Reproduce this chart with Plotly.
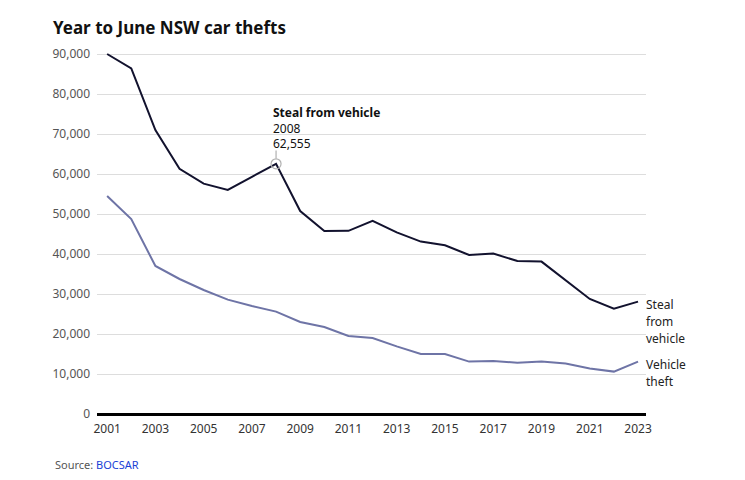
import plotly.graph_objects as go

years = list(range(2001, 2024))
steal_from_vehicle = [90000, 86400, 71000, 61300, 57600, 56000, 59300, 62555, 50750, 45750,
                      45800, 48300, 45400, 43100, 42200, 39750, 40100, 38250, 38100, 33500,
                      28750, 26300, 28100]
vehicle_theft = [54500, 48750, 37000, 33750, 31000, 28600, 27000, 25600, 23000, 21750,
                 19500, 19000, 16900, 15000, 15000, 13100, 13250, 12800, 13100, 12600,
                 11400, 10600, 13100]
y_ticks = [0, 10000, 20000, 30000, 40000, 50000, 60000, 70000, 80000, 90000]
x_ticks = list(range(2001, 2024, 2))

FONT = "Noto Sans"
C_STEAL = "#12122e"
C_THEFT = "#6e74a6"

# page body has an 8px margin, so the figure is sized/offset to compensate
W, H = 737, 472
L, R, T, B = 89, 99, 44, 66
PW, PH = W - L - R, H - T - B

fig = go.Figure()
fig.add_trace(go.Scatter(x=years, y=steal_from_vehicle, mode="lines",
                         line=dict(color=C_STEAL, width=2), name="Steal from vehicle",
                         hoverinfo="skip"))
fig.add_trace(go.Scatter(x=years, y=vehicle_theft, mode="lines",
                         line=dict(color=C_THEFT, width=2), name="Vehicle theft",
                         hoverinfo="skip"))

hi = years.index(2008)
hx, hy = years[hi], steal_from_vehicle[hi]
fig.add_trace(go.Scatter(x=[hx], y=[hy], mode="markers",
                         marker=dict(symbol="circle-open", size=10, color="#b0b0b0",
                                     line=dict(width=1.2, color="#b0b0b0")),
                         hoverinfo="skip"))
fig.add_shape(type="line", xref="x", yref="y", x0=hx, x1=hx, y0=hy + 1300, y1=hy + 3300,
              line=dict(color="#b0b0b0", width=1.2))
fig.add_annotation(x=hx, y=hy, xref="x", yref="y", xanchor="left", yanchor="middle",
                   xshift=-5, yshift=36, showarrow=False, align="left",
                   text=f"<b>Steal from vehicle</b><br>{hx}<br>{hy:,}",
                   font=dict(family=FONT, size=12, color="#111"))

end_labels = [(steal_from_vehicle[-1], ["Steal", "from", "vehicle"]),
              (vehicle_theft[-1], ["Vehicle", "theft"])]
for yv, lines in end_labels:
    for i, line in enumerate(lines):
        fig.add_annotation(x=years[-1], y=yv, xref="x", yref="y",
                           xanchor="left", yanchor="middle", xshift=6, yshift=-3 - 17 * i,
                           showarrow=False, align="left", text=line,
                           font=dict(family=FONT, size=12, color="#222"))

fig.update_layout(
    width=W, height=H,
    margin=dict(l=L, r=R, t=T, b=B),
    paper_bgcolor="white", plot_bgcolor="white",
    showlegend=False,
    title=dict(text="<b>Year to June NSW car thefts</b>", x=45 / W, xanchor="left",
               y=1 - 20 / H, yanchor="middle",
               font=dict(family=FONT, size=17, color="#111")),
    font=dict(family=FONT, size=12, color="#444"),
    xaxis=dict(range=[2000.58, 2023.33], tickvals=x_ticks, ticktext=[str(t) for t in x_ticks],
               showgrid=False, zeroline=False, showline=False, ticks="",
               ticklabelstandoff=6,
               tickfont=dict(family=FONT, size=12, color="#333")),
    yaxis=dict(range=[0, 90500], tickvals=y_ticks,
               ticktext=[f"{v:,}" for v in y_ticks],
               showgrid=True, gridcolor="#dddddd", gridwidth=1,
               zeroline=True, zerolinecolor="#000", zerolinewidth=3,
               showline=False, ticks="", ticklabelstandoff=6,
               tickfont=dict(family=FONT, size=12, color="#555")),
)
fig.add_annotation(x=(45 - L) / PW, y=-(456 - (H - B)) / PH, xref="paper", yref="paper",
                   xanchor="left", yanchor="middle", showarrow=False,
                   text='Source: <span style="color:#1a3fd6">BOCSAR</span>',
                   font=dict(family=FONT, size=11, color="#555"))
fig.write_html("out.html")
